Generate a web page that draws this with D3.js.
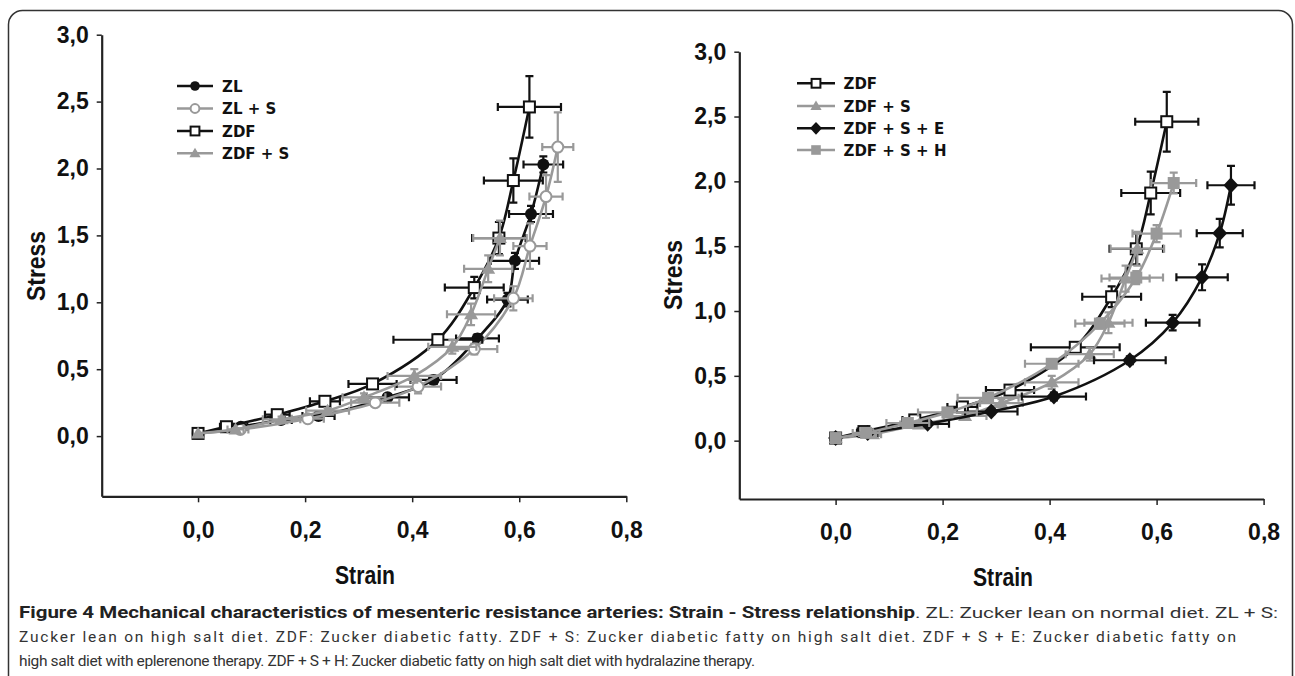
<!DOCTYPE html>
<html>
<head>
<meta charset="utf-8">
<script src="https://cdn.jsdelivr.net/npm/d3@7"></script>
<style>
  html, body { margin: 0; padding: 0; background: #fff; }
  svg { display: block; }
  .tick text { font-family: "Liberation Sans", Arial, sans-serif; font-weight: bold; font-size: 23px; fill: #111; }
</style>
</head>
<body>
<svg id="chart" width="1295" height="676"></svg>
<script>
// ---------- DATA (strain, stress, strain error, stress error) ----------
const ZL = [
  [0.000, 0.02, 0.000, 0.00], [0.080, 0.07, 0.012, 0.01], [0.155, 0.12, 0.020, 0.01],
  [0.225, 0.15, 0.030, 0.02], [0.354, 0.29, 0.040, 0.02], [0.440, 0.42, 0.043, 0.03],
  [0.522, 0.73, 0.040, 0.03], [0.578, 1.02, 0.038, 0.05], [0.592, 1.31, 0.045, 0.06],
  [0.622, 1.66, 0.041, 0.06], [0.645, 2.03, 0.037, 0.06]
];
const ZLS = [
  [0.000, 0.02, 0.000, 0.00], [0.079, 0.05, 0.015, 0.01], [0.205, 0.13, 0.030, 0.02],
  [0.331, 0.25, 0.045, 0.02], [0.411, 0.37, 0.043, 0.05], [0.516, 0.65, 0.043, 0.04],
  [0.589, 1.03, 0.036, 0.09], [0.620, 1.42, 0.031, 0.17], [0.650, 1.79, 0.031, 0.16],
  [0.672, 2.16, 0.029, 0.26]
];
const ZDF = [
  [0.000, 0.02, 0.000, 0.00], [0.053, 0.07, 0.012, 0.01], [0.148, 0.16, 0.023, 0.02],
  [0.237, 0.26, 0.028, 0.03], [0.326, 0.39, 0.045, 0.03], [0.448, 0.72, 0.083, 0.04],
  [0.516, 1.11, 0.055, 0.08], [0.562, 1.48, 0.050, 0.12], [0.589, 1.91, 0.055, 0.165],
  [0.619, 2.46, 0.059, 0.23]
];
const ZDFS = [
  [0.000, 0.02, 0.000, 0.00], [0.070, 0.05, 0.015, 0.01], [0.156, 0.125, 0.035, 0.02],
  [0.242, 0.19, 0.040, 0.02], [0.310, 0.29, 0.040, 0.03], [0.404, 0.45, 0.050, 0.05],
  [0.475, 0.667, 0.045, 0.05], [0.510, 0.91, 0.045, 0.08], [0.542, 1.25, 0.045, 0.10],
  [0.564, 1.48, 0.050, 0.13]
];
const ZDFSE = [
  [0.000, 0.02, 0.000, 0.00], [0.060, 0.06, 0.020, 0.01], [0.172, 0.13, 0.040, 0.02],
  [0.291, 0.225, 0.049, 0.02], [0.408, 0.34, 0.060, 0.03], [0.550, 0.62, 0.067, 0.03],
  [0.630, 0.91, 0.050, 0.06], [0.685, 1.26, 0.048, 0.10], [0.718, 1.60, 0.043, 0.11],
  [0.739, 1.97, 0.044, 0.15]
];
const ZDFSH = [
  [0.000, 0.02, 0.000, 0.00], [0.057, 0.06, 0.025, 0.01], [0.135, 0.136, 0.040, 0.02],
  [0.209, 0.218, 0.055, 0.02], [0.285, 0.33, 0.057, 0.03], [0.404, 0.593, 0.050, 0.03],
  [0.494, 0.903, 0.046, 0.04], [0.562, 1.258, 0.050, 0.05], [0.600, 1.597, 0.045, 0.065],
  [0.632, 1.987, 0.042, 0.08]
];

const xTicks = [0, 0.2, 0.4, 0.6, 0.8];
const yTicks = [0, 0.5, 1.0, 1.5, 2.0, 2.5, 3.0];
const leftNames = ["ZL", "ZL + S", "ZDF", "ZDF + S"];
const rightNames = ["ZDF", "ZDF + S", "ZDF + S + E", "ZDF + S + H"];
const captionBold = "Figure 4 Mechanical characteristics of mesenteric resistance arteries: Strain - Stress relationship";
const captionLines = [
  ". ZL: Zucker lean on normal diet. ZL + S:",
  "Zucker lean on high salt diet. ZDF: Zucker diabetic fatty. ZDF + S: Zucker diabetic fatty on high salt diet. ZDF + S + E: Zucker diabetic fatty on",
  "high salt diet with eplerenone therapy. ZDF + S + H: Zucker diabetic fatty on high salt diet with hydralazine therapy."
];

// ---------- STYLE ----------
const BLACK = "#111", GRAY = "#999";
const styles = {
  "ZL":          { data: ZL,    color: BLACK, marker: "circleFilled" },
  "ZL + S":      { data: ZLS,   color: GRAY,  marker: "circleOpen" },
  "ZDF":         { data: ZDF,   color: BLACK, marker: "squareOpen" },
  "ZDF + S":     { data: ZDFS,  color: GRAY,  marker: "triangle" },
  "ZDF + S + E": { data: ZDFSE, color: BLACK, marker: "diamond" },
  "ZDF + S + H": { data: ZDFSH, color: GRAY,  marker: "squareFilled" }
};

const svg = d3.select("#chart");

// frame
svg.append("rect").attr("x", 8.5).attr("y", 10.5).attr("width", 1284).attr("height", 720)
  .attr("rx", 14).attr("fill", "none").attr("stroke", "#333").attr("stroke-width", 1.5);

const fmt = d => d3.format(".1f")(d).replace(".", ",");

function drawMarker(g, type, color, x, y, k) {
  k = k || 1;
  if (type === "circleFilled") {
    g.append("circle").attr("cx", x).attr("cy", y).attr("r", 6 * k).attr("fill", color);
  } else if (type === "circleOpen") {
    g.append("circle").attr("cx", x).attr("cy", y).attr("r", 5.5 * k).attr("fill", "#fff")
      .attr("stroke", color).attr("stroke-width", 2);
  } else if (type === "squareOpen") {
    g.append("rect").attr("x", x - 5.5 * k).attr("y", y - 5.5 * k).attr("width", 11 * k).attr("height", 11 * k)
      .attr("fill", "#fff").attr("stroke", color).attr("stroke-width", 2);
  } else if (type === "squareFilled") {
    g.append("rect").attr("x", x - 6 * k).attr("y", y - 6 * k).attr("width", 12 * k).attr("height", 12 * k)
      .attr("fill", color);
  } else if (type === "triangle") {
    g.append("path").attr("d", `M${x},${y - 7 * k}L${x + 7 * k},${y + 5 * k}L${x - 7 * k},${y + 5 * k}Z`).attr("fill", color);
  } else if (type === "diamond") {
    g.append("path").attr("d", `M${x},${y - 8 * k}L${x + 7.5 * k},${y}L${x},${y + 8 * k}L${x - 7.5 * k},${y}Z`).attr("fill", color);
  }
}

function panel(opts) {
  const x = d3.scaleLinear().domain([-0.18, 0.8]).range(opts.xr);
  const y = d3.scaleLinear().domain([-0.45, 3.0]).range(opts.yr);
  const g = svg.append("g");

  // axes
  const xa = g.append("g").attr("transform", `translate(0,${opts.yr[0]})`)
    .call(d3.axisBottom(x).tickValues(xTicks).tickSize(6).tickSizeOuter(0).tickPadding(19).tickFormat(fmt));
  const ya = g.append("g").attr("transform", `translate(${opts.xr[0]},0)`)
    .call(d3.axisLeft(y).tickValues(yTicks).tickSize(5).tickSizeOuter(0).tickPadding(8).tickFormat(fmt));
  [xa, ya].forEach(a => {
    a.select(".domain").attr("stroke", "#222").attr("stroke-width", 2.2);
    a.selectAll(".tick line").attr("stroke", "#222").attr("stroke-width", 1.5);
  });

  // titles
  g.append("text").attr("x", opts.strainPos[0]).attr("y", opts.strainPos[1])
    .attr("text-anchor", "middle").attr("dominant-baseline", "central")
    .attr("textLength", 60).attr("lengthAdjust", "spacingAndGlyphs")
    .style("font-family", "Liberation Sans, Arial, sans-serif").style("font-weight", "bold")
    .style("font-size", "25px").attr("fill", "#111").text("Strain");
  g.append("text").attr("transform", `translate(${opts.stressPos[0]},${opts.stressPos[1]}) rotate(-90)`)
    .attr("text-anchor", "middle").attr("dominant-baseline", "central")
    .attr("textLength", 70).attr("lengthAdjust", "spacingAndGlyphs")
    .style("font-family", "Liberation Sans, Arial, sans-serif").style("font-weight", "bold")
    .style("font-size", "25px").attr("fill", "#111").text("Stress");

  const line = d3.line().x(d => x(d[0])).y(d => y(d[1])).curve(d3.curveCatmullRom.alpha(0.5));
  const cap = 4;

  opts.names.forEach(name => {
    const s = styles[name];
    const sg = g.append("g");
    sg.append("path").datum(s.data).attr("d", line).attr("fill", "none")
      .attr("stroke", s.color).attr("stroke-width", 2.6);
    // error bars
    s.data.forEach(d => {
      const cx = x(d[0]), cy = y(d[1]);
      if (d[2] > 0) {
        const x1 = x(d[0] - d[2]), x2 = x(d[0] + d[2]);
        sg.append("path").attr("d", `M${x1},${cy}H${x2}M${x1},${cy - cap}V${cy + cap}M${x2},${cy - cap}V${cy + cap}`)
          .attr("stroke", s.color).attr("stroke-width", 2.2).attr("fill", "none");
      }
      if (d[3] > 0) {
        const y1 = y(d[1] - d[3]), y2 = y(d[1] + d[3]);
        sg.append("path").attr("d", `M${cx},${y1}V${y2}M${cx - cap},${y1}H${cx + cap}M${cx - cap},${y2}H${cx + cap}`)
          .attr("stroke", s.color).attr("stroke-width", 2.2).attr("fill", "none");
      }
    });
    s.data.forEach(d => drawMarker(sg, s.marker, s.color, x(d[0]), y(d[1])));
  });

  // legend
  opts.names.forEach((name, i) => {
    const s = styles[name];
    const ly = opts.legend.y[i];
    g.append("line").attr("x1", opts.legend.x1).attr("x2", opts.legend.x2).attr("y1", ly).attr("y2", ly)
      .attr("stroke", s.color).attr("stroke-width", 2.4);
    drawMarker(g, s.marker, s.color, (opts.legend.x1 + opts.legend.x2) / 2, ly, 0.8);
    g.append("text").attr("x", opts.legend.tx).attr("y", ly + 5.5)
      .style("font-family", "DejaVu Sans, sans-serif").style("font-weight", "bold").style("font-size", "15px")
      .attr("fill", "#111").text(name);
  });
}

panel({
  xr: [101.7, 626.3], yr: [496.3, 34.7], names: leftNames,
  strainPos: [365, 575], stressPos: [36, 266],
  legend: { x1: 177, x2: 213, tx: 222, y: [86, 108.5, 131, 153.3] }
});
panel({
  xr: [739.3, 1263.6], yr: [499, 51.7], names: rightNames,
  strainPos: [1003, 577], stressPos: [673, 275],
  legend: { x1: 797, x2: 835, tx: 843.5, y: [83.3, 106, 128.3, 150] }
});

// caption
const capFont = "Roboto, Open Sans, sans-serif";
svg.append("text").attr("x", 19).attr("y", 618).attr("textLength", 896).attr("lengthAdjust", "spacingAndGlyphs")
  .style("font-family", capFont).style("font-weight", "bold").style("font-size", "16.5px").attr("fill", "#222")
  .text(captionBold);
const capX = [[915, 1278], [19, 1236], [19, 755]];
const capY = [618, 642, 666];
captionLines.forEach((t, i) => {
  svg.append("text").attr("x", capX[i][0]).attr("y", capY[i])
    .attr("textLength", capX[i][1] - capX[i][0])
    .attr("lengthAdjust", i === 0 ? "spacingAndGlyphs" : "spacing")
    .style("font-family", capFont).style("font-size", "15.5px").attr("fill", "#333").text(t);
});
</script>
</body>
</html>
